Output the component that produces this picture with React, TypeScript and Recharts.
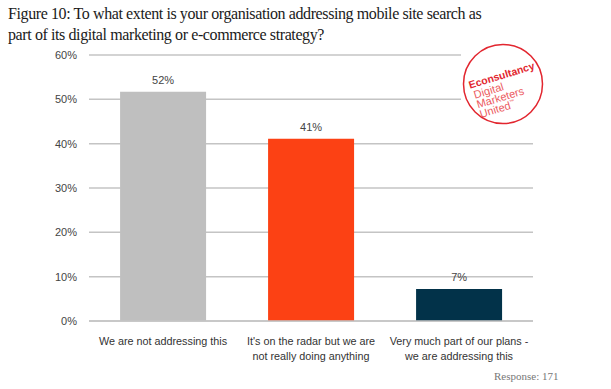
import React from 'react';
import { BarChart, Bar, XAxis, YAxis, CartesianGrid, LabelList, Cell } from 'recharts';

const categories = [
  "We are not addressing this",
  "It's on the radar but we are not really doing anything",
  "Very much part of our plans - we are addressing this",
];
const tickLines = [
  ["We are not addressing this"],
  ["It's on the radar but we are", "not really doing anything"],
  ["Very much part of our plans -", "we are addressing this"],
];
const values = [51.7, 41.1, 7.2];
const valueLabels = ['52%', '41%', '7%'];
const barColors = ['#bfbfbf', '#fc4114', '#023249'];
const yTicks = [0, 10, 20, 30, 40, 50, 60];

const data = categories.map((name, i) => ({ name, value: values[i], label: valueLabels[i] }));

const sans = '"Liberation Sans", Arial, sans-serif';
const serif = '"Liberation Serif", Georgia, serif';

const CategoryTick = (props: any) => {
  const { x, y, index } = props;
  const lines = tickLines[index] || [];
  return (
    <g transform={`translate(${x},${y})`}>
      {lines.map((l, i) => (
        <text key={i} x={0} y={16 + i * 15} textAnchor="middle" fontSize={10.8} fill="#333" fontFamily={sans}>
          {l}
        </text>
      ))}
    </g>
  );
};

const Logo = () => (
  <svg width={100} height={100} style={{ position: 'absolute', left: 455, top: 36 }}>
    <rect x={6} y={0} width={94} height={100} fill="#fff" />
    <circle cx={48} cy={48} r={39.5} fill="#fff" stroke="#e2262f" strokeWidth={1.5} />
    <g transform="rotate(-17 48 48)" fontFamily={sans} fill="#e2262f">
      <text x={15} y={43} fontSize={10.5} fontWeight="bold">Econsultancy</text>
      <text x={17} y={54} fontSize={11} fill="#ec5a60">Digital</text>
      <text x={17} y={64} fontSize={11} fill="#ec5a60">Marketers</text>
      <text x={17} y={74} fontSize={11} fill="#ec5a60">United<tspan fontSize={5} dy={-5}>™</tspan></text>
    </g>
  </svg>
);

export default function App() {
  return (
    <div style={{ position: 'absolute', left: 0, top: 0, width: 611, height: 389, background: '#fff', overflow: 'hidden' }}>
      <div style={{ position: 'absolute', left: 8, top: 3, fontFamily: serif, fontSize: 16, letterSpacing: -0.4, lineHeight: '21px', color: '#1a1a1a', whiteSpace: 'nowrap' }}>
        Figure 10: To what extent is your organisation addressing mobile site search as<br />
        part of its digital marketing or e-commerce strategy?
      </div>
      <div style={{ position: 'absolute', left: 0, top: 0 }}>
        <BarChart width={611} height={389} data={data} margin={{ top: 55, right: 78, bottom: 18, left: 29 }} barCategoryGap="21%">
          <CartesianGrid vertical={false} stroke="#c4c4c4" strokeWidth={1.5} />
          <XAxis dataKey="name" tick={<CategoryTick />} tickLine={false} axisLine={{ stroke: '#c4c4c4', strokeWidth: 1.5 }} height={50} interval={0} />
          <YAxis
            domain={[0, 60]}
            ticks={yTicks}
            tickFormatter={(v: number) => `${v}%`}
            tickLine={false}
            axisLine={false}
            width={60}
            tickMargin={6}
            tick={{ fontSize: 11, fill: '#444', fontFamily: sans }}
          />
          <Bar dataKey="value" isAnimationActive={false}>
            {data.map((d, i) => (
              <Cell key={i} fill={barColors[i]} />
            ))}
            <LabelList dataKey="label" position="top" offset={8} fontSize={11} fill="#444" fontFamily={sans} />
          </Bar>
        </BarChart>
      </div>
      <Logo />
      <div style={{ position: 'absolute', left: 494, top: 370, fontFamily: serif, fontSize: 11, color: '#777' }}>
        Response: 171
      </div>
    </div>
  );
}
